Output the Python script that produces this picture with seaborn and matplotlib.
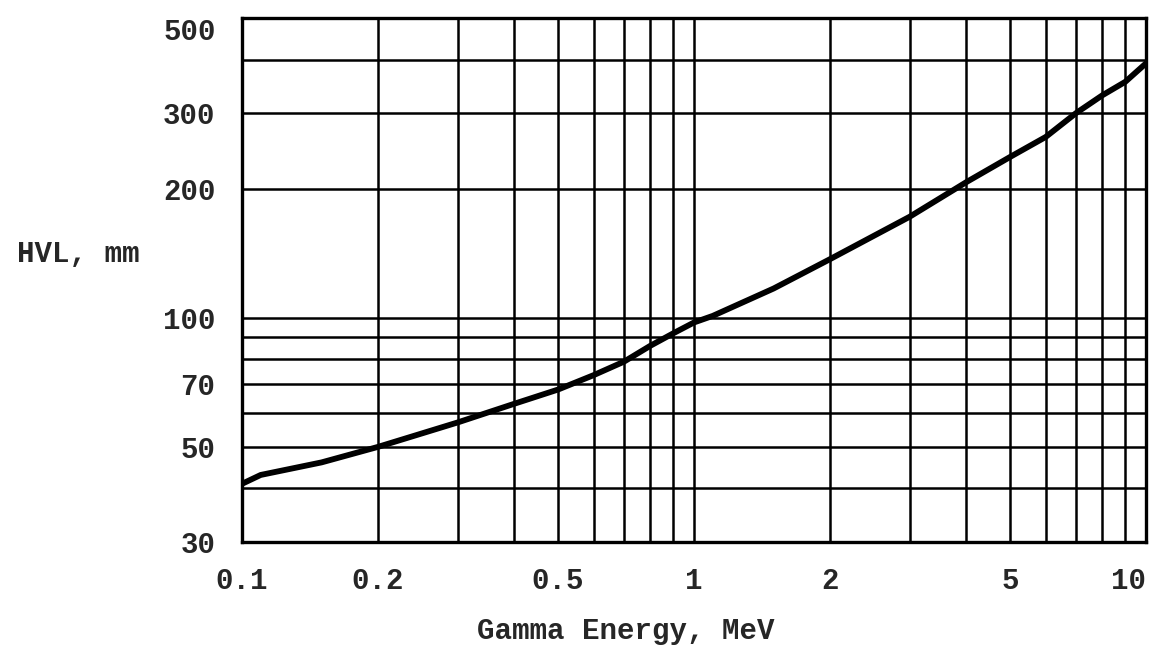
import pandas as pd
import matplotlib.pyplot as plt
import seaborn as sns
from matplotlib.ticker import FixedLocator, NullFormatter

# --- data ---
energy_mev = [0.10, 0.11, 0.15, 0.2, 0.3, 0.4, 0.5, 0.6, 0.7, 0.8, 0.9,
              1.0, 1.1, 1.5, 2, 3, 4, 5, 6, 7, 8, 9, 10]
hvl_mm = [41, 43, 46, 50, 57, 63, 68, 73.5, 79, 86, 92,
          97.5, 101, 117, 137, 172, 207, 237, 264, 300, 330, 355, 392]

x_major = [0.1, 0.2, 0.5, 1, 2, 5, 10]
x_major_labels = ['0.1', '0.2', '0.5', '1', '2', '5', '10']
x_minor = [0.3, 0.4, 0.6, 0.7, 0.8, 0.9, 3, 4, 6, 7, 8, 9]
y_major = [30, 50, 70, 100, 200, 300, 500]
y_major_labels = ['30', '50', '70', '100', '200', '300', '500']
y_minor = [40, 60, 80, 90, 400]

df = pd.DataFrame({'energy': energy_mev, 'hvl': hvl_mm})

sns.set_style('white')
plt.rcParams['font.family'] = ['Liberation Mono', 'DejaVu Sans']
plt.rcParams['font.weight'] = 'bold'

fig = plt.figure(figsize=(11.49, 6.49), dpi=100)
ax = fig.add_axes([242 / 1149, 1 - 542 / 649, 904 / 1149, 524 / 649])

ax.set_xscale('log')
ax.set_yscale('log')
ax.set_xlim(0.1, 10)
ax.set_ylim(30, 500)

sns.lineplot(data=df, x='energy', y='hvl', ax=ax, color='black', linewidth=4.2)

# grid like printed log paper
ax.xaxis.set_major_locator(FixedLocator(x_major))
ax.xaxis.set_minor_locator(FixedLocator(x_minor))
ax.yaxis.set_major_locator(FixedLocator(y_major))
ax.yaxis.set_minor_locator(FixedLocator(y_minor))
ax.set_xticklabels(x_major_labels)
ax.set_yticklabels(y_major_labels)
ax.xaxis.set_minor_formatter(NullFormatter())
ax.yaxis.set_minor_formatter(NullFormatter())
ax.grid(True, which='both', color='black', linewidth=1.8)
ax.tick_params(which='both', length=0)
ax.tick_params(axis='x', pad=18, labelsize=21)
ax.tick_params(axis='y', pad=19, labelsize=21)
for sp in ax.spines.values():
    sp.set_color('black')
    sp.set_linewidth(2.4)

# nudge end labels like the original
ax.get_xticklabels()[-1].set_ha('right')
ax.get_yticklabels()[-1].set_va('top')

ax.set_xlabel('Gamma Energy, MeV', fontsize=21, fontweight='bold', va='center')
ax.xaxis.set_label_coords((626 - 242) / 904, (542 - 631) / 524)
ax.set_ylabel('HVL, mm', fontsize=21, fontweight='bold', rotation=0,
              ha='center', va='center')
ax.yaxis.set_label_coords((78 - 242) / 904, (542 - 254) / 524)

plt.savefig('out.png', dpi=100)
